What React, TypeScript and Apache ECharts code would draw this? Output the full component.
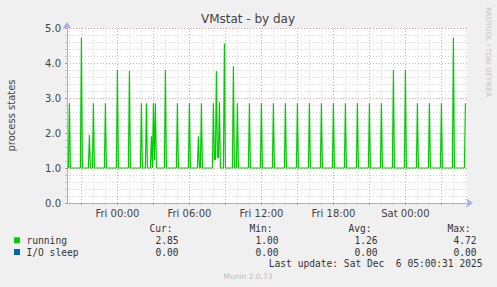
import React, { useEffect, useRef } from "react";
import * as echarts from "echarts";

// ---- data ----
const TITLE = "VMstat - by day";
const Y_NAME = "process states";
const X_LABEL_HOURS = [0, 6, 12, 18, 24];
const Y_MIN = 0;
const Y_MAX = 5;
const RANGE_START = "Thu 19:48";
const RANGE_END = "Sat 05:08";
const FIRST_SAMPLE = "Thu 19:50";
const LAST_SAMPLE = "Sat 05:00";
const STEP_MIN = 5;
const RUNNING_BASELINE = 1.0;
// samples that differ from the baseline (time, value)
const RUNNING_PEAKS: [string, number][] = [
  ["Thu 20:00", 2.85],
  ["Thu 21:00", 4.72],
  ["Thu 21:40", 1.94],
  ["Thu 22:00", 2.85],
  ["Thu 23:00", 2.85],
  ["Fri 00:00", 3.8],
  ["Fri 01:00", 3.77],
  ["Fri 02:00", 2.85],
  ["Fri 02:25", 2.85],
  ["Fri 02:50", 1.91],
  ["Fri 03:00", 2.85],
  ["Fri 03:05", 1.23],
  ["Fri 03:10", 2.85],
  ["Fri 04:00", 3.8],
  ["Fri 05:00", 2.85],
  ["Fri 06:00", 2.85],
  ["Fri 06:45", 1.91],
  ["Fri 07:00", 2.85],
  ["Fri 08:00", 2.85],
  ["Fri 08:05", 1.24],
  ["Fri 08:10", 1.24],
  ["Fri 08:15", 3.77],
  ["Fri 08:20", 1.3],
  ["Fri 08:25", 1.3],
  ["Fri 08:30", 2.88],
  ["Fri 08:55", 4.56],
  ["Fri 09:40", 3.91],
  ["Fri 10:00", 2.85],
  ["Fri 11:00", 2.85],
  ["Fri 12:00", 2.85],
  ["Fri 13:00", 2.85],
  ["Fri 14:00", 2.85],
  ["Fri 15:00", 2.85],
  ["Fri 16:00", 2.85],
  ["Fri 17:00", 2.85],
  ["Fri 18:00", 2.85],
  ["Fri 19:00", 2.85],
  ["Fri 20:00", 2.85],
  ["Fri 21:00", 2.85],
  ["Fri 22:00", 2.85],
  ["Fri 23:00", 3.8],
  ["Sat 00:00", 3.8],
  ["Sat 01:00", 2.85],
  ["Sat 02:00", 2.85],
  ["Sat 03:00", 2.85],
  ["Sat 04:00", 4.72],
  ["Sat 05:00", 2.85],
];
const LEGEND_HEAD = ["Cur:", "Min:", "Avg:", "Max:"];
const RUNNING_STATS = ["2.85", "1.00", "1.26", "4.72"];
const IOSLEEP_STATS = ["0.00", "0.00", "0.00", "0.00"];
const SERIES_NAMES = ["running", "I/O sleep"];
const SERIES_COLORS = ["#00cc00", "#0066b3"];
const LAST_UPDATE = "Last update: Sat Dec  6 05:00:31 2025";
const VERSION = "Munin 2.0.73";
const WATERMARK = "RRDTOOL / TOBI OETIKER";

const DAY_OFFSET: Record<string, number> = { Thu: -24, Fri: 0, Sat: 24 };
const DAY_NAMES: Record<number, string> = { [-24]: "Thu", 0: "Fri", 24: "Sat" };
function toHours(s: string): number {
  const [d, t] = s.split(" ");
  const [h, m] = t.split(":").map(Number);
  return DAY_OFFSET[d] + h + m / 60;
}
function fmtHour(v: number): string {
  const day = Math.floor(v / 24) * 24;
  const h = Math.round(v - day);
  return `${DAY_NAMES[day]} ${String(h).padStart(2, "0")}:00`;
}

export default function App() {
  const ref = useRef<HTMLDivElement>(null);
  useEffect(() => {
    if (!ref.current) return;
    const chart = echarts.init(ref.current, undefined, { renderer: "svg" });
    const xMin = toHours(RANGE_START);
    const xMax = toHours(RANGE_END);
    const peakMap = new Map<number, number>();
    RUNNING_PEAKS.forEach(([t, v]) => peakMap.set(Math.round(toHours(t) * 60), v));
    const runData: [number, number][] = [];
    const s0 = Math.round(toHours(FIRST_SAMPLE) * 60);
    const s1 = Math.round(toHours(LAST_SAMPLE) * 60);
    for (let m = s0; m <= s1; m += STEP_MIN) {
      runData.push([m / 60, peakMap.has(m) ? (peakMap.get(m) as number) : RUNNING_BASELINE]);
    }
    const hourly: number[] = [];
    const major: number[] = [];
    for (let h = Math.ceil(xMin); h <= Math.floor(xMax); h++) {
      if (h % 3 === 0) major.push(h);
      else hourly.push(h);
    }
    const mono = "'DejaVu Sans Mono', monospace";
    const sans = "'DejaVu Sans', sans-serif";
    const monoSize = 9.6;
    const colX = [172.5, 272.5, 371.5, 470.5];
    const valX = [178.5, 278.5, 377.5, 476.5];
    const graphics: any[] = [
      {
        type: "text",
        x: 248,
        y: 19,
        style: { text: TITLE, font: `12px ${sans}`, fill: "#444", align: "center", verticalAlign: "middle" },
      },
      {
        type: "text",
        x: 488,
        y: 52,
        rotation: -Math.PI / 2,
        style: { text: WATERMARK, font: `7px ${sans}`, fill: "#c4c4c4", align: "center", verticalAlign: "middle" },
      },
      {
        type: "text",
        x: 248,
        y: 276,
        style: { text: VERSION, font: `7.5px ${sans}`, fill: "#bbbbbb", align: "center", verticalAlign: "middle" },
      },
      {
        type: "text",
        x: 482.5,
        y: 263.5,
        style: { text: LAST_UPDATE, font: `${monoSize}px ${mono}`, fill: "#333", align: "right", verticalAlign: "middle" },
      },
    ];
    LEGEND_HEAD.forEach((h, i) => {
      graphics.push({
        type: "text",
        x: colX[i],
        y: 228,
        style: { text: h, font: `${monoSize}px ${mono}`, fill: "#333", align: "right", verticalAlign: "middle" },
      });
    });
    [RUNNING_STATS, IOSLEEP_STATS].forEach((row, r) => {
      const y = 240.3 + r * 11.7;
      graphics.push({
        type: "rect",
        shape: { x: 14, y: y - 3, width: 6, height: 6 },
        style: { fill: SERIES_COLORS[r] },
      });
      graphics.push({
        type: "text",
        x: 26.5,
        y,
        style: { text: SERIES_NAMES[r], font: `${monoSize}px ${mono}`, fill: "#333", align: "left", verticalAlign: "middle" },
      });
      row.forEach((v, i) => {
        graphics.push({
          type: "text",
          x: valX[i],
          y,
          style: { text: v, font: `${monoSize}px ${mono}`, fill: "#333", align: "right", verticalAlign: "middle" },
        });
      });
    });

    chart.setOption({
      animation: false,
      backgroundColor: "#f0f0f0",
      grid: {
        left: 67,
        top: 28,
        width: 400,
        height: 175,
        containLabel: false,
        outerBoundsMode: "none",
        show: true,
        backgroundColor: "#ffffff",
        borderWidth: 0,
      },
      xAxis: [
        {
          type: "value",
          min: xMin,
          max: xMax,
          axisLine: {
            show: true,
            onZero: false,
            lineStyle: { color: "#a4aee6", width: 1 },
            symbol: ["none", "arrow"],
            symbolSize: [7, 7],
            symbolOffset: [0, 6],
          },
          axisTick: {
            show: true,
            customValues: major,
            length: 2,
            lineStyle: { color: "#e08080" },
          },
          axisLabel: {
            show: true,
            customValues: X_LABEL_HOURS,
            formatter: (v: number) => fmtHour(v),
            fontFamily: sans,
            fontSize: 10,
            color: "#444",
            margin: 5,
          },
          splitLine: { show: false },
        },
        {
          type: "value",
          min: xMin,
          max: xMax,
          position: "bottom",
          axisLine: { show: false, onZero: false },
          axisTick: { show: true, customValues: hourly, length: 2, lineStyle: { color: "#c8c8c8" } },
          axisLabel: { show: false },
          splitLine: { show: false },
        },
      ],
      yAxis: {
        type: "value",
        min: Y_MIN,
        max: Y_MAX,
        interval: 1,
        name: Y_NAME,
        nameLocation: "middle",
        nameGap: 51,
        nameTextStyle: { fontFamily: sans, fontSize: 10, color: "#444" },
        axisLine: {
          show: true,
          onZero: false,
          lineStyle: { color: "#a4aee6", width: 1 },
          symbol: ["none", "arrow"],
          symbolSize: [7, 7],
          symbolOffset: [0, 6],
        },
        axisTick: { show: true, length: 2, lineStyle: { color: "#e08080" } },
        minorTick: { show: true, splitNumber: 5, length: 2, lineStyle: { color: "#c8c8c8" } },
        axisLabel: {
          formatter: (v: number) => v.toFixed(1),
          fontFamily: sans,
          fontSize: 10,
          color: "#444",
          margin: 6,
        },
        splitLine: { show: true, lineStyle: { color: "#e8a0a0", type: [1, 2], width: 1 } },
        minorSplitLine: { show: true, lineStyle: { color: "#d6d6d6", type: [1, 2], width: 1 } },
      },
      graphic: graphics,
      series: [
        {
          type: "line",
          name: "grid",
          data: [],
          z: 1,
          silent: true,
          markLine: {
            silent: true,
            symbol: ["none", "none"],
            label: { show: false },
            animation: false,
            data: [
              ...hourly.map((h) => ({ xAxis: h, lineStyle: { color: "#d6d6d6", type: [1, 2], width: 1 } })),
              ...major.map((h) => ({ xAxis: h, lineStyle: { color: "#e8a0a0", type: [1, 2], width: 1 } })),
            ],
          },
        },
        {
          type: "line",
          name: SERIES_NAMES[0],
          data: runData,
          showSymbol: false,
          symbol: "none",
          z: 5,
          lineStyle: { color: SERIES_COLORS[0], width: 1.2 },
          itemStyle: { color: SERIES_COLORS[0] },
        },
      ],
    });
    return () => chart.dispose();
  }, []);
  return <div ref={ref} style={{ width: 497, height: 287, position: "absolute", left: 0, top: 0 }} />;
}
